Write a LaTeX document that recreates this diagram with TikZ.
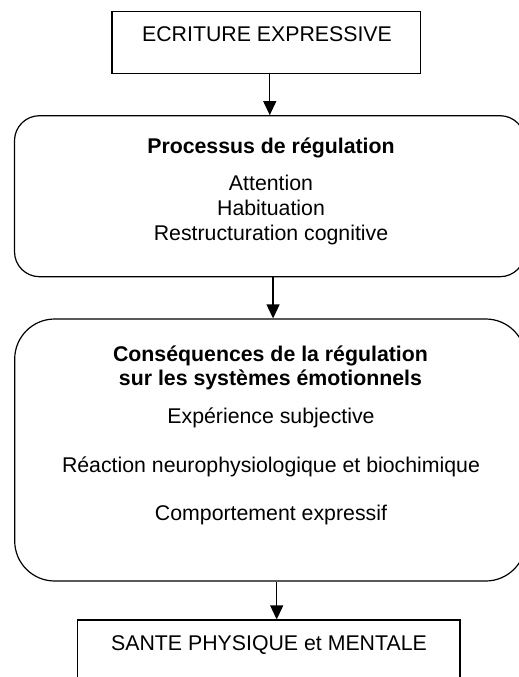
\documentclass[tikz,border=0pt]{standalone}
\usepackage{fontspec}
\setmainfont{Liberation Sans}
\usetikzlibrary{arrows.meta}

\begin{document}
\begin{tikzpicture}[x=1pt, y=-1pt,
    box/.style={draw, line width=1.2pt, inner sep=0pt},
    txt/.style={font=\fontsize{21.3}{24.5}\selectfont, inner sep=0pt, anchor=base},
    arr/.style={line width=1.2pt, -{Triangle[width=13pt, length=14pt]}}]
    \useasboundingbox (0,0) rectangle (519,677);

    % Boxes
    \node[box, minimum width=308.7pt, minimum height=61.6pt] (ecrit) at (266.4,42.5) {};
    \node[box, rounded corners=25pt, minimum width=510.5pt, minimum height=161pt] (reg) at (269.75,196.2) {};
    \node[box, rounded corners=40pt, minimum width=511pt, minimum height=262pt] (cons) at (270.2,450) {};
    \node[box, minimum width=382.7pt, minimum height=80pt] (sante) at (268.6,660) {};

    % Texts
    \node[txt] (ecrit-t) at (267,42) {ECRITURE EXPRESSIVE};
    \node[txt] (reg-t) at (271,153) {\textbf{Processus de régulation}};
    \foreach \entry/\y [count=\i] in {Attention/190, Habituation/215, Restructuration cognitive/240}
        \node[txt] (reg-\i) at (271,\y) {\entry};
    \node[txt] (cons-t1) at (270.5,361) {\textbf{Conséquences de la régulation}};
    \node[txt] (cons-t2) at (270.5,385) {\textbf{sur les systèmes émotionnels}};
    \foreach \entry/\y [count=\i] in {Expérience subjective/423, Réaction neurophysiologique et biochimique/472, Comportement expressif/520}
        \node[txt] (cons-\i) at (271,\y) {\entry};
    \node[txt] (sante-t) at (269,650) {SANTE PHYSIQUE et MENTALE};

    % Arrows
    \draw[arr] (ecrit.south -| reg.north) -- (reg.north);
    \coordinate (d2) at ([xshift=3.3pt]reg.south);
    \draw[arr] (d2) -- (d2 |- cons.north);
    \coordinate (d3) at ([xshift=6.5pt]cons.south);
    \draw[arr] (d3) -- (d3 |- sante.north);
\end{tikzpicture}
\end{document}
